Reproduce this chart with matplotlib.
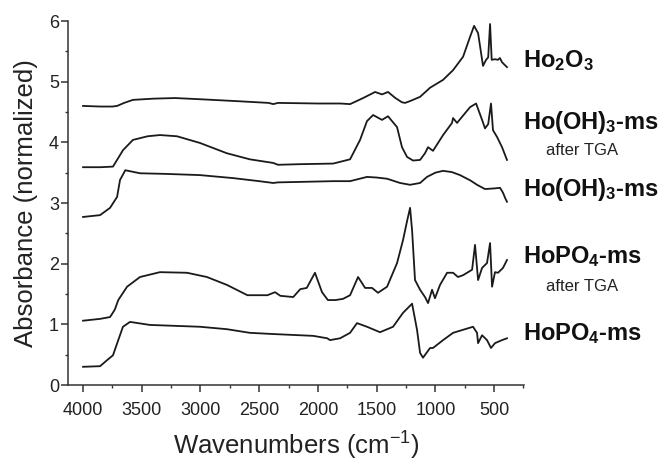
import matplotlib
matplotlib.use("Agg")
import matplotlib.pyplot as plt
from matplotlib.ticker import MultipleLocator

plt.rcParams['font.family'] = ['Liberation Sans', 'DejaVu Sans']
plt.rcParams['mathtext.fontset'] = 'custom'
plt.rcParams['mathtext.rm'] = 'Liberation Sans'
plt.rcParams['mathtext.bf'] = 'Liberation Sans:bold'
plt.rcParams['mathtext.default'] = 'rm'

# ---- data ----
w_ho2o3 = [4000, 3850, 3750, 3710, 3650, 3575, 3400, 3215, 3000, 2700, 2420, 2380, 2340, 2000,
           1810, 1726, 1615, 1513, 1454, 1403, 1340, 1284, 1258, 1215, 1130, 1045, 934, 849, 764,
           704, 670, 636, 594, 568, 550, 534, 520, 492, 466, 450, 432, 406, 390]
a_ho2o3 = [4.60, 4.59, 4.59, 4.60, 4.65, 4.70, 4.72, 4.73, 4.71, 4.68, 4.65, 4.63, 4.65, 4.64,
           4.64, 4.63, 4.73, 4.83, 4.79, 4.83, 4.73, 4.66, 4.65, 4.68, 4.75, 4.90, 5.03, 5.19, 5.41,
           5.74, 5.92, 5.80, 5.26, 5.36, 5.40, 5.95, 5.36, 5.37, 5.36, 5.39, 5.32, 5.27, 5.24]

w_hooh_tga = [4000, 3850, 3745, 3685, 3660, 3575, 3450, 3345, 3200, 3005, 2775, 2580, 2380, 2340,
              2150, 1870, 1726, 1641, 1582, 1530, 1454, 1403, 1326, 1284, 1241, 1190, 1130, 1088,
              1062, 1020, 934, 858, 849, 815, 760, 704, 653, 602, 577, 550, 526, 509, 475, 432, 390]
a_hooh_tga = [3.59, 3.59, 3.60, 3.79, 3.87, 4.04, 4.10, 4.12, 4.10, 3.99, 3.82, 3.72, 3.66, 3.63,
              3.64, 3.65, 3.72, 4.04, 4.35, 4.45, 4.37, 4.43, 4.25, 3.92, 3.76, 3.70, 3.71, 3.82,
              3.92, 3.86, 4.12, 4.32, 4.40, 4.32, 4.45, 4.58, 4.64, 4.37, 4.23, 4.30, 4.64, 4.20,
              4.09, 3.92, 3.71]

w_hooh = [4000, 3855, 3770, 3710, 3685, 3640, 3515, 3300, 3005, 2720, 2500, 2380, 2340, 2100,
          1870, 1726, 1582, 1500, 1411, 1300, 1215, 1130, 1071, 1000, 934, 860, 790, 700, 645,
          577, 500, 449, 424, 405, 390]
a_hooh = [2.77, 2.80, 2.92, 3.10, 3.38, 3.54, 3.49, 3.48, 3.46, 3.41, 3.36, 3.33, 3.34, 3.35,
          3.36, 3.36, 3.43, 3.42, 3.40, 3.33, 3.30, 3.33, 3.43, 3.50, 3.53, 3.51, 3.46, 3.37, 3.30,
          3.23, 3.24, 3.25, 3.17, 3.08, 3.02]

w_hopo4_tga = [4000, 3855, 3770, 3730, 3700, 3625, 3515, 3345, 3115, 2945, 2775, 2600, 2430, 2365,
               2320, 2210, 2150, 2095, 2025, 1965, 1915, 1850, 1786, 1726, 1658, 1598, 1539, 1488,
               1411, 1326, 1275, 1241, 1215, 1198, 1173, 1130, 1088, 1062, 1028, 1003, 960, 900,
               849, 807, 764, 687, 662, 636, 602, 560, 534, 517, 492, 466, 424, 390]
a_hopo4_tga = [1.06, 1.09, 1.12, 1.24, 1.40, 1.62, 1.78, 1.86, 1.85, 1.78, 1.65, 1.48, 1.48, 1.53,
               1.47, 1.45, 1.58, 1.60, 1.85, 1.53, 1.40, 1.40, 1.42, 1.48, 1.78, 1.60, 1.60, 1.52,
               1.62, 2.01, 2.39, 2.70, 2.92, 2.55, 1.73, 1.57, 1.45, 1.35, 1.57, 1.43, 1.65, 1.85,
               1.85, 1.78, 1.81, 1.90, 2.31, 1.73, 1.93, 2.01, 2.34, 1.62, 1.86, 1.85, 1.93, 2.06]

w_hopo4 = [4000, 3855, 3795, 3745, 3700, 3660, 3600, 3430, 3005, 2775, 2580, 2380, 2040, 1920,
           1897, 1811, 1726, 1667, 1582, 1471, 1360, 1275, 1198, 1156, 1130, 1105, 1045, 1020,
           934, 849, 679, 645, 636, 602, 560, 526, 492, 432, 390]
a_hopo4 = [0.30, 0.31, 0.41, 0.49, 0.74, 0.96, 1.04, 0.99, 0.96, 0.92, 0.86, 0.84, 0.81, 0.77,
           0.74, 0.77, 0.86, 1.02, 0.96, 0.87, 0.96, 1.19, 1.34, 0.91, 0.53, 0.45, 0.61, 0.61,
           0.74, 0.86, 0.96, 0.86, 0.69, 0.82, 0.74, 0.61, 0.69, 0.74, 0.77]

x_ticks = [4000, 3500, 3000, 2500, 2000, 1500, 1000, 500]
y_ticks = [0, 1, 2, 3, 4, 5, 6]

labels_main = ['Ho$_\\mathbf{2}$O$_\\mathbf{3}$', 'Ho(OH)$_\\mathbf{3}$-ms', 'Ho(OH)$_\\mathbf{3}$-ms',
               'HoPO$_\\mathbf{4}$-ms', 'HoPO$_\\mathbf{4}$-ms']
labels_y = [5.34, 4.33, 3.23, 2.11, 0.84]
sub_labels = ['after TGA', 'after TGA']
sub_y = [3.87, 1.62]

# ---- figure ----
fig = plt.figure(figsize=(6.68, 4.61), dpi=100)
ax = fig.add_axes([68/668, 1-385/461, (524-68)/668, (385-21)/461])

lc = '#1a1a1a'
for w, a in [(w_ho2o3, a_ho2o3), (w_hooh_tga, a_hooh_tga), (w_hooh, a_hooh),
             (w_hopo4_tga, a_hopo4_tga), (w_hopo4, a_hopo4)]:
    ax.plot(w, a, color=lc, lw=1.3, solid_joinstyle='round')

ax.set_xlim(4128, 245)
ax.set_ylim(0, 6)
ax.set_xticks(x_ticks)
ax.set_yticks(y_ticks)
ax.xaxis.set_minor_locator(MultipleLocator(250))
ax.yaxis.set_minor_locator(MultipleLocator(0.5))
for s in ['top', 'right']:
    ax.spines[s].set_visible(False)
for s in ['left', 'bottom']:
    ax.spines[s].set_color('#333333')
    ax.spines[s].set_linewidth(1.1)
ax.tick_params(axis='both', which='major', direction='out', length=5, width=1.1,
               color='#333333', labelsize=13, labelcolor='#222222')
ax.tick_params(axis='both', which='minor', direction='out', length=2.5, width=1.0, color='#333333')
ax.tick_params(axis='x', pad=7)
ax.tick_params(axis='y', pad=1.5)

ax.set_xlabel('Wavenumbers (cm$^{-1}$)', fontsize=18.5, color='#222222', labelpad=8)
ax.set_ylabel('Absorbance (normalized)', fontsize=18.5, color='#222222', labelpad=8)

xl = 4000 - (523 - 83) / 0.11743
for t, yv in zip(labels_main, labels_y):
    ax.text(xl, yv, t, fontsize=17, fontweight='bold', color='#111111',
            ha='left', va='center', clip_on=False)
xs = 4000 - (546 - 83) / 0.11743
for t, yv in zip(sub_labels, sub_y):
    ax.text(xs, yv, t, fontsize=12, color='#222222', ha='left', va='center', clip_on=False)

fig.savefig('out.png', dpi=100)
